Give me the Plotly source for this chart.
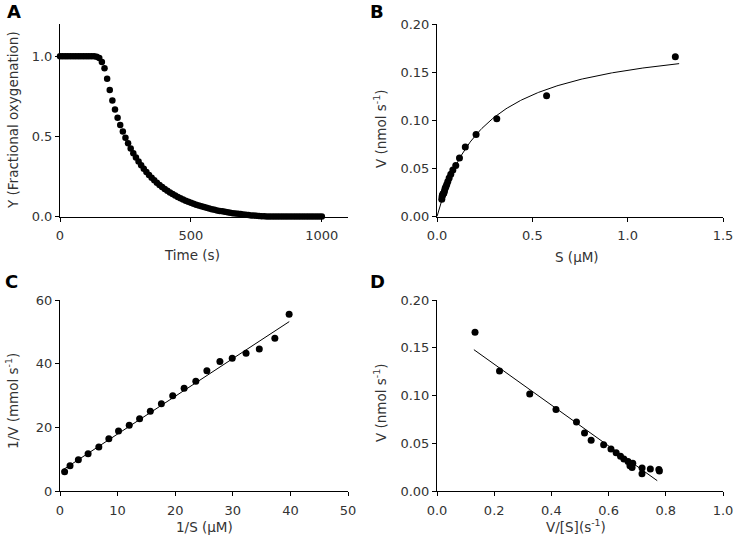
import plotly.graph_objects as go

# ---------------- data ----------------
# Panel A: oxygen dissociation time course
time_s = list(range(0, 1001, 10))
frac_oxy = (
    [1.0] * 14 +
    [0.997, 0.99, 0.965, 0.925, 0.86, 0.79, 0.725, 0.668, 0.617, 0.571,
     0.530, 0.492, 0.457, 0.425, 0.395, 0.368, 0.343, 0.320, 0.298, 0.278,
     0.259, 0.242, 0.226, 0.211, 0.197, 0.184, 0.172, 0.160, 0.150, 0.140,
     0.131, 0.122, 0.114, 0.106, 0.099, 0.092, 0.086, 0.080, 0.074, 0.069,
     0.064, 0.059, 0.054, 0.050, 0.046, 0.042, 0.038, 0.035, 0.032, 0.029,
     0.026, 0.024, 0.021, 0.019, 0.017, 0.015, 0.013, 0.011, 0.009, 0.007,
     0.006, 0.004, 0.003, 0.002, 0.001] +
    [0.0] * 22
)

# Kinetic data
inv_S = [0.80, 1.74, 3.19, 4.88, 6.74, 8.48, 10.16, 12.02, 13.82, 15.68, 17.6,
         19.57, 21.55, 23.58, 25.5, 27.76, 29.9, 32.3, 34.6, 37.3, 39.78]
inv_V = [6.02, 7.96, 9.84, 11.73, 13.82, 16.44, 18.85, 20.63, 22.72, 25.03, 27.43,
         29.95, 32.26, 34.45, 37.8, 40.7, 41.7, 43.3, 44.6, 47.97, 55.5]

S_vals = [1.0 / v for v in inv_S]
V_vals = [1.0 / v for v in inv_V]
V_over_S = [v / s for v, s in zip(V_vals, S_vals)]

# Fit results
mm_Vmax, mm_Km = 0.191, 0.255            # Michaelis-Menten fit (panel B)
lb_intercept, lb_slope = 6.05, 1.185      # Lineweaver-Burk fit (panel C)
lb_x = [0.46, 39.8]
eh_intercept, eh_slope = 0.1756, -0.214   # Eadie-Hofstee fit (panel D)
eh_x = [0.129, 0.770]

mm_S = [i * 1.27 / 200 for i in range(201)]
mm_V = [mm_Vmax * s / (mm_Km + s) for s in mm_S]
lb_y = [lb_intercept + lb_slope * x for x in lb_x]
eh_y = [eh_intercept + eh_slope * x for x in eh_x]

# ---------------- figure ----------------
W, H = 734, 541
FONT = "DejaVu Sans, Liberation Sans, Arial, sans-serif"
GREY = "#333333"
MSIZE = 7

fig = go.Figure()

def mk(x, y, xa, ya, size=MSIZE):
    return go.Scatter(x=x, y=y, mode="markers", xaxis=xa, yaxis=ya,
                      marker=dict(color="black", size=size, line=dict(width=0)),
                      cliponaxis=False, showlegend=False, hoverinfo="skip")

def ln(x, y, xa, ya, shape="linear"):
    return go.Scatter(x=x, y=y, mode="lines", xaxis=xa, yaxis=ya,
                      line=dict(color="black", width=1, shape=shape),
                      cliponaxis=False, showlegend=False, hoverinfo="skip")

fig.add_trace(mk(time_s, frac_oxy, "x", "y", 6.5))
fig.add_trace(ln(mm_S, mm_V, "x2", "y2"))
fig.add_trace(mk(S_vals, V_vals, "x2", "y2"))
fig.add_trace(ln(lb_x, lb_y, "x3", "y3"))
fig.add_trace(mk(inv_S, inv_V, "x3", "y3"))
fig.add_trace(ln(eh_x, eh_y, "x4", "y4"))
fig.add_trace(mk(V_over_S, V_vals, "x4", "y4"))

def px_x(p):
    return p / W

def px_y(p):
    return 1 - p / H

xdomL = [px_x(60), px_x(348)]
xdomR = [px_x(437), px_x(723)]
ydomT = [px_y(216.5), px_y(24.3)]
ydomB = [px_y(491), px_y(300)]

def axis(domain, rng, tickvals, fmt, anchor, standoff):
    return dict(domain=domain, range=rng, tickvals=tickvals, tickformat=fmt,
                showline=True, linecolor="black", linewidth=1,
                ticks="outside", ticklen=4, tickcolor="black", tickwidth=1,
                showgrid=False, zeroline=False, anchor=anchor, fixedrange=True,
                automargin=False, ticklabelstandoff=standoff,
                tickfont=dict(family=FONT, size=13, color=GREY))

XS, YS = 3, 0
fig.update_layout(
    width=W, height=H,
    margin=dict(l=0, r=0, t=0, b=0, pad=0, autoexpand=False),
    paper_bgcolor="white", plot_bgcolor="white",
    xaxis=axis(xdomL, [0, 1100], [0, 500, 1000], "d", "y", XS),
    yaxis=axis(ydomT, [0, 1.2], [0, 0.5, 1.0], ".1f", "x", YS),
    xaxis2=axis(xdomR, [0, 1.5], [0, 0.5, 1.0, 1.5], ".1f", "y2", XS),
    yaxis2=axis(ydomT, [0, 0.2], [0, 0.05, 0.1, 0.15, 0.2], ".2f", "x2", YS),
    xaxis3=axis(xdomL, [0, 50], [0, 10, 20, 30, 40, 50], "d", "y3", XS),
    yaxis3=axis(ydomB, [0, 60], [0, 20, 40, 60], "d", "x3", YS),
    xaxis4=axis(xdomR, [0, 1.0], [0, 0.2, 0.4, 0.6, 0.8, 1.0], ".1f", "y4", XS),
    yaxis4=axis(ydomB, [0, 0.2], [0, 0.05, 0.1, 0.15, 0.2], ".2f", "x4", YS),
)

def ann(text, x, y, angle=0, size=13.5, bold=False, color=GREY):
    fig.add_annotation(text=f"<b>{text}</b>" if bold else text,
                       x=px_x(x), y=px_y(y), xref="paper", yref="paper",
                       showarrow=False, textangle=angle,
                       xanchor="center", yanchor="middle",
                       font=dict(family=FONT, size=size, color=color))

# axis titles
ann("Time (s)", 192, 255)
ann("Y (Fractional oxygenation)", 13, 120, -90)
ann("S (\u03bcM)", 577, 257)
ann("V (nmol s<sup>-1</sup>)", 380, 129, -90)
ann("1/S (\u03bcM)", 204, 527)
ann("1/V (mmol s<sup>-1</sup>)", 12, 401, -90)
ann("V/[S](s<sup>-1</sup>)", 576, 526)
ann("V (nmol s<sup>-1</sup>)", 380, 403, -90)

# panel letters
ann("A", 14, 12, size=18, bold=True, color="black")
ann("B", 377, 12, size=18, bold=True, color="black")
ann("C", 11, 281, size=18, bold=True, color="black")
ann("D", 377, 281, size=18, bold=True, color="black")

# remove the default 8px page margin so the figure fills the window exactly
fig.write_html("out.html", config={"displayModeBar": False},
               post_script="document.body.style.margin='0';")
